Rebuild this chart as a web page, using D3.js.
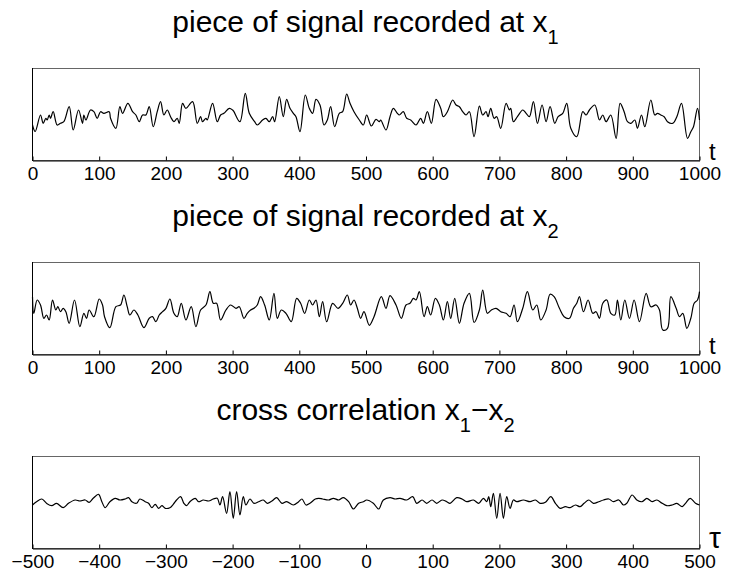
<!DOCTYPE html>
<html>
<head>
<meta charset="utf-8">
<script src="https://d3js.org/d3.v7.min.js"></script>
<style>
  body { margin: 0; background: #fff; }
  text { font-family: "Liberation Sans", Arial, Helvetica, sans-serif; fill: #000; }
</style>
</head>
<body>
<script>
// ---- data (arbitrary amplitude units) ----
var tTicks = [0, 100, 200, 300, 400, 500, 600, 700, 800, 900, 1000];
var lagTicks = [-500, -400, -300, -200, -100, 0, 100, 200, 300, 400, 500];

// signal at x1
var t1 = [0,4,12,16,20,22,25,27,31,37,42,47,55,61,69,75,77,80,87,92,97,102,107,115,117,125,131,135,143,150,155,160,165,170,175,181,187,192,197,202,207,212,217,220,225,230,240,247,252,255,260,262,270,277,282,287,295,300,302,311,319,325,333,337,345,350,355,360,363,370,376,381,386,391,395,401,409,415,420,425,431,437,442,447,453,460,465,471,476,482,490,496,501,508,515,520,522,530,536,541,547,550,556,561,567,575,582,586,592,598,605,612,616,622,630,635,640,645,650,655,662,670,675,680,683,687,692,696,702,710,715,717,721,727,735,740,745,751,757,764,770,776,783,788,795,801,807,816,825,830,835,843,850,855,860,867,875,881,887,892,897,903,907,913,918,927,933,937,942,947,952,960,966,973,982,987,991,997,1000];
var sig1 = [-11,-17.5,-1,-9.3,-4.3,-6,-1,-4.3,2.3,-11,-9.3,-7.7,7.3,-16,4,-9.3,-1,-6,4,2.3,-4.3,2.3,0.7,2.3,-4.3,-14.3,7.3,0.7,10.7,2.3,-1,-7.7,-1,-1,7.3,-12.7,2.3,12.3,-1,4,-2.7,-7.7,-4.3,-9.3,10.7,5.7,12.3,-9.3,-2.7,-7.7,-4.3,-6,10.7,-7.7,-1,0.7,5.7,4,2.3,-7.7,20.7,0.7,-7.7,-11,-6,-4.3,-7.7,-2.7,-7.7,17.3,-2.7,14.7,5.7,0.7,-2.7,-17.7,19,5.7,0.7,14.7,9,-11,-6,7.3,-12.7,0.7,2.3,20,10.7,2.3,-6,-11,-1,-12,-5.3,-7.7,-6,-16,-2.7,5.7,0.7,-1,2.3,-4.3,-6,-11,-4.3,-9.3,2.3,-9.3,14.7,5.7,-2.7,2.3,14,9,7.3,2.3,-1,2.3,-22.7,8,-1,2.3,-2.7,5.7,-4.3,-2.7,-14.3,10.7,4,5.7,-7.7,-2.7,4,0.7,-2.7,12.3,-9.3,9,-7.7,7.3,-9.3,-2.7,0.7,10.7,-14.3,-22.7,2.3,-1,4,9,-6,-1,-7.7,-1,-24.3,10.7,2.3,-7.7,-9.3,-6,-14.3,-1,-12.7,14,-1,0.7,-1,-2.7,-7.7,-9.3,-2.7,10.7,-24.3,-17.7,-12.7,5.7,-6];

// signal at x2
var t2 = [0,2,7,12,17,21,25,30,35,38,42,46,50,55,63,71,77,81,85,92,100,105,108,116,125,132,137,142,146,152,158,167,175,180,185,190,195,200,206,212,217,223,230,238,245,252,260,266,271,276,282,290,297,305,310,317,322,327,332,337,342,348,355,362,367,373,380,388,396,402,408,415,420,425,430,435,441,450,458,465,472,477,482,487,492,497,505,512,523,530,536,545,553,560,566,571,575,580,587,592,597,604,610,616,622,627,633,640,647,655,662,670,675,682,688,695,702,710,716,722,727,735,742,750,756,762,770,776,782,790,797,805,811,816,820,826,833,840,845,850,855,861,867,873,877,882,888,895,902,910,920,927,935,940,945,952,957,965,970,975,981,987,992,997,1000];
var sig2 = [11.3,-5.3,8,3,-10.3,-7,-12,8,-2,1.3,-3.7,-0.3,-3.7,-15.3,8,-18.7,-5.3,-10.3,-2,-8.7,9,3,-8.7,-19.7,1.3,3,13,1.3,-7,-2,-7,-19.7,-10.3,-8.7,-13.7,-7,-3.7,-0.3,9,-5.3,-8.7,4.7,-12,1.3,-18.7,-2,3,16.3,4.7,4.7,-12,-2,3,-0.3,1.3,-10.3,-5.3,-2,-0.3,3,11.3,3,-12,14.7,-10.3,-2,-5.3,-13.7,9.7,4.7,-5.3,8,3,8,-8.7,6.3,-13.7,4.7,-0.3,4.7,13,3,8,-0.3,-10.3,-3.7,-17.3,-8.7,11.3,-0.3,12.3,3,-10.3,3,4.7,9.7,8,16.3,-8.7,1.3,-7,9.7,3,-12,6.3,-10.3,9.7,-15.3,4.7,14.7,-14.5,-2,18,-5.3,-2,-0.3,-3.7,-5.3,-8.7,3,-13.7,-0.3,16.3,-2,3,-12,-2,13.7,11.3,-0.3,-8.7,-10.3,-0.3,4.7,11.3,-3.7,8,-5.3,-3.7,-10.3,4.7,8,-5.3,-7,8,-12,8,-10.3,8,-13.7,14.7,1.3,3,-2,-22,-20.3,11.3,-0.3,-8.7,-5.3,-20.3,-10.3,4.7,8,16.3];

// cross correlation x1-x2
var lag = [-500,-494,-486,-479,-471,-464,-454,-446,-436,-429,-421,-415,-409,-401,-396,-391,-384,-376,-369,-361,-356,-351,-344,-339,-331,-326,-321,-316,-311,-306,-301,-294,-289,-284,-278,-273,-269,-264,-256,-251,-244,-236,-229,-223,-219,-215,-209,-204,-199,-194,-189,-184,-180,-174,-168,-161,-154,-148,-141,-134,-126,-119,-109,-101,-96,-90,-84,-76,-71,-65,-56,-49,-41,-34,-26,-19,-11,-4,1,11,19,26,36,44,51,61,70,76,84,91,99,106,114,121,126,136,144,151,161,169,176,181,184,187,191,196,201,206,211,216,221,226,236,246,254,261,269,277,284,291,299,306,314,321,327,334,341,349,356,364,371,379,386,391,399,406,414,421,429,436,444,451,459,466,474,479,486,494,500];
var xcorr = [-3,0.3,3,-1.3,-3.7,-1.3,-5.7,-1.3,2,1,2,-0.3,3.7,7.7,0.3,-5.7,0.3,3.7,2,3,4.3,0.3,-1.3,3,0.3,-1.3,-5.7,-2.3,-6.3,-3.7,-6.3,-5.7,-2.3,2,5.3,-1.3,-3.7,0.3,3.7,0.3,2,1,3,3.7,-3,5.3,-11.3,10.3,-16.3,10.3,-13,5.3,-3,3,-1.3,0.3,2,-1.3,1,4.3,-1.3,0.3,-3,0.3,3,-3,-1.3,3,3.7,3,2,3.7,2,4.3,0.3,-7,-1.3,0.3,2,-1.3,-7,2,4.3,3,3.7,2,5.3,-1.3,2,-1.3,2,-1.3,2,0.3,-1.3,4.3,3,0.3,2,-1.3,3.7,0.3,5.3,-4.7,8.7,-16.3,8.7,-16.3,5.3,-6.3,2,0.3,2,0.3,2,-1.3,-0.3,5.3,-1.3,-6.3,-4.7,-5.7,-3,-4.7,-1.3,2,-1.3,0.3,2,3,0.3,2,-3,-1.3,7,2,0.3,3.7,0.3,2,-1.3,-3.7,-3,-1.3,-4.7,-1.3,3.7,-1.3,-3];

// ---- layout ----
var W = 730, H = 571;
var boxLeft = 32, boxRight = 699, boxH = 92;

var svg = d3.select("body")
    .append("svg")
    .attr("width", W)
    .attr("height", H);

function panel(top, xdom, ticks, xs, ys, title, sub, title2, sub2, axisName, axisSize) {
    var x = d3.scaleLinear().domain(xdom).range([boxLeft + 0.5, boxRight + 0.5]);
    var y = d3.scaleLinear().domain([-46, 46]).range([top + boxH, top]);

    // title with subscripts
    var tt = svg.append("text")
        .attr("x", (boxLeft + boxRight) / 2)
        .attr("y", top - 36)
        .attr("text-anchor", "middle")
        .style("font-size", "30px");
    tt.append("tspan").text(title);
    tt.append("tspan").attr("dy", 12).style("font-size", "20px").text(sub);
    if (title2) {
        tt.append("tspan").attr("dy", -12).text(title2);
        tt.append("tspan").attr("dy", 12).style("font-size", "20px").text(sub2);
    }

    // box: top/right edges come out lighter in the original
    svg.append("rect")
        .attr("x", boxLeft + 0.5)
        .attr("y", top + 0.5)
        .attr("width", boxRight - boxLeft)
        .attr("height", boxH)
        .attr("fill", "none")
        .attr("stroke", "#666")
        .attr("stroke-width", 1);
    svg.append("line")
        .attr("x1", boxLeft + 0.5).attr("x2", boxLeft + 0.5)
        .attr("y1", top).attr("y2", top + boxH + 1)
        .attr("stroke", "#000");

    // x axis, ticks pointing inward
    var ax = svg.append("g")
        .attr("transform", "translate(0," + (top + boxH + 0.5) + ")")
        .call(d3.axisBottom(x).tickValues(ticks).tickFormat(d3.format("d"))
            .tickSize(-4).tickSizeOuter(0).tickPadding(6));
    ax.select(".domain").attr("stroke", "#000");
    ax.selectAll("text").style("font-size", "19px").attr("font-family", null);
    ax.selectAll("line").attr("stroke", "#000");

    // the trace
    var line = d3.line()
        .x(function(d, i) { return x(xs[i]); })
        .y(function(d) { return y(d); })
        .curve(d3.curveCatmullRom.alpha(0.5));
    svg.append("path")
        .attr("d", line(ys))
        .attr("fill", "none")
        .attr("stroke", "#000")
        .attr("stroke-width", 1.2);

    // axis name at right end
    svg.append("text")
        .attr("x", boxRight + 10)
        .attr("y", top + boxH)
        .style("font-size", axisSize)
        .text(axisName);
}

panel(68, [0, 1000], tTicks, t1, sig1, "piece of signal recorded at x", "1", null, null, "t", "24px");
panel(262, [0, 1000], tTicks, t2, sig2, "piece of signal recorded at x", "2", null, null, "t", "24px");
panel(456, [-500, 500], lagTicks, lag, xcorr, "cross correlation x", "1", "\u2212x", "2", "\u03c4", "30px");
</script>
</body>
</html>
